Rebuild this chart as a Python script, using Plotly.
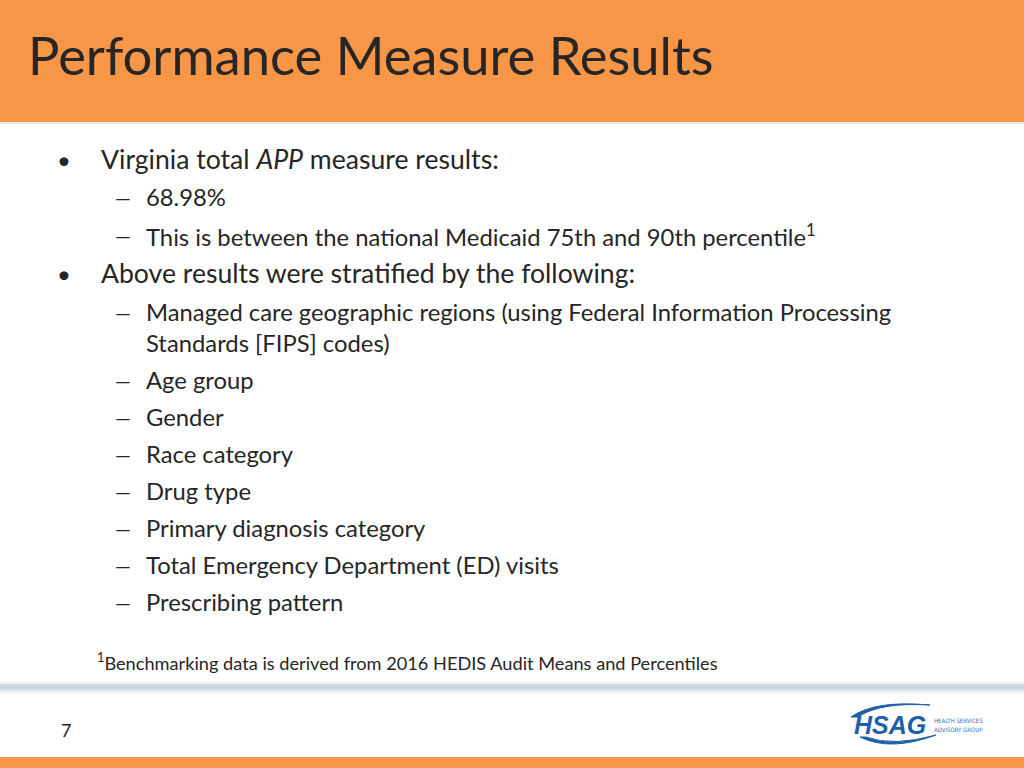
import plotly.graph_objects as go

W, H = 1024, 768
FONT = "Lato"
TEXT_COLOR = "#262626"

title_text = "Performance Measure Results"

# (level, text, y-centre in px)
bullet_levels = [1, 2, 2, 1, 2, 0, 2, 2, 2, 2, 2, 2, 2]
bullet_texts = [
    "Virginia total <i>APP</i> measure results:",
    "68.98%",
    "This is between the national Medicaid 75th and 90th percentile<sup>1</sup>",
    "Above results were stratified by the following:",
    "Managed care geographic regions (using Federal Information Processing",
    "Standards [FIPS] codes)",
    "Age group",
    "Gender",
    "Race category",
    "Drug type",
    "Primary diagnosis category",
    "Total Emergency Department (ED) visits",
    "Prescribing pattern",
]
bullet_y = [159, 197, 235, 273, 312, 343, 380, 417, 454, 491, 528, 565, 602]

footnote_text = "<sup>1</sup>Benchmarking data is derived from 2016 HEDIS Audit Means and Percentiles"
page_number = "7"

fig = go.Figure()
fig.add_trace(go.Scatter(x=[0, W], y=[0, H], mode="markers", marker=dict(opacity=0), hoverinfo="skip", showlegend=False))

shapes = []
# header band
shapes.append(dict(type="rect", x0=0, x1=W, y0=0, y1=122, fillcolor="#F79646", line_width=0, layer="below"))
shapes.append(dict(type="rect", x0=0, x1=W, y0=122, y1=124, fillcolor="#F3E6DA", line_width=0, layer="below"))
# bottom orange band
shapes.append(dict(type="rect", x0=0, x1=W, y0=757, y1=H, fillcolor="#F79646", line_width=0, layer="below"))
# shadow divider
shade = [("#EEF1F4", 682, 684), ("#D3DAE1", 684, 687), ("#C8D1DA", 687, 689), ("#DDE3E8", 689, 691), ("#F1F3F5", 691, 694)]
for c, a, b in shade:
    shapes.append(dict(type="rect", x0=0, x1=W, y0=a, y1=b, fillcolor=c, line_width=0, layer="below"))

# logo swooshes
shapes.append(dict(type="path", path="M 851,717 Q 875,700 930,705 Q 880,702 858,717 Z",
                   fillcolor="#1E5FA8", line=dict(color="#1E5FA8", width=1)))
shapes.append(dict(type="path", path="M 860,737 Q 890,752 936,735 Q 893,747 866,737 Z",
                   fillcolor="#1E5FA8", line=dict(color="#1E5FA8", width=1)))

annotations = []
annotations.append(dict(x=26, y=54, text=title_text, xanchor="left", yanchor="middle", showarrow=False,
                        font=dict(family=FONT, size=52.5, color=TEXT_COLOR)))

for lvl, txt, y in zip(bullet_levels, bullet_texts, bullet_y):
    if lvl == 1:
        annotations.append(dict(x=64, y=y, text="•", xanchor="center", yanchor="middle", showarrow=False,
                                font=dict(family=FONT, size=24, color=TEXT_COLOR)))
        annotations.append(dict(x=99, y=y, text=txt, xanchor="left", yanchor="middle", showarrow=False,
                                font=dict(family=FONT, size=26.6, color=TEXT_COLOR)))
    else:
        if lvl == 2:
            annotations.append(dict(x=123, y=y, text="—", xanchor="center", yanchor="middle", showarrow=False,
                                    font=dict(family=FONT, size=20, color=TEXT_COLOR)))
        annotations.append(dict(x=144, y=y, text=txt, xanchor="left", yanchor="middle", showarrow=False,
                                font=dict(family=FONT, size=23.8, color=TEXT_COLOR)))

annotations.append(dict(x=95, y=661, text=footnote_text, xanchor="left", yanchor="middle", showarrow=False,
                        font=dict(family=FONT, size=18.2, color=TEXT_COLOR)))
annotations.append(dict(x=66, y=730, text=page_number, xanchor="center", yanchor="middle", showarrow=False,
                        font=dict(family=FONT, size=18, color=TEXT_COLOR)))
# logo texts
annotations.append(dict(x=890, y=725, text="<b><i>HSAG</i></b>", xanchor="center", yanchor="middle", showarrow=False,
                        font=dict(family="Liberation Sans", size=25, color="#1E5FA8")))
annotations.append(dict(x=932, y=720, text="HEALTH SERVICES", xanchor="left", yanchor="middle", showarrow=False,
                        font=dict(family="DejaVu Sans Condensed", size=6, color="#3C6FA8")))
annotations.append(dict(x=932, y=729, text="ADVISORY GROUP", xanchor="left", yanchor="middle", showarrow=False,
                        font=dict(family="DejaVu Sans Condensed", size=6, color="#3C6FA8")))

fig.update_layout(
    width=W, height=H, margin=dict(l=0, r=0, t=0, b=0),
    paper_bgcolor="white", plot_bgcolor="white",
    xaxis=dict(range=[0, W], visible=False, fixedrange=True),
    yaxis=dict(range=[H, 0], visible=False, fixedrange=True),
    shapes=shapes, annotations=annotations, showlegend=False,
)

fig.write_html("out.html", config={"displayModeBar": False},
               post_script="document.body.style.margin='0';document.body.style.overflow='hidden';")
